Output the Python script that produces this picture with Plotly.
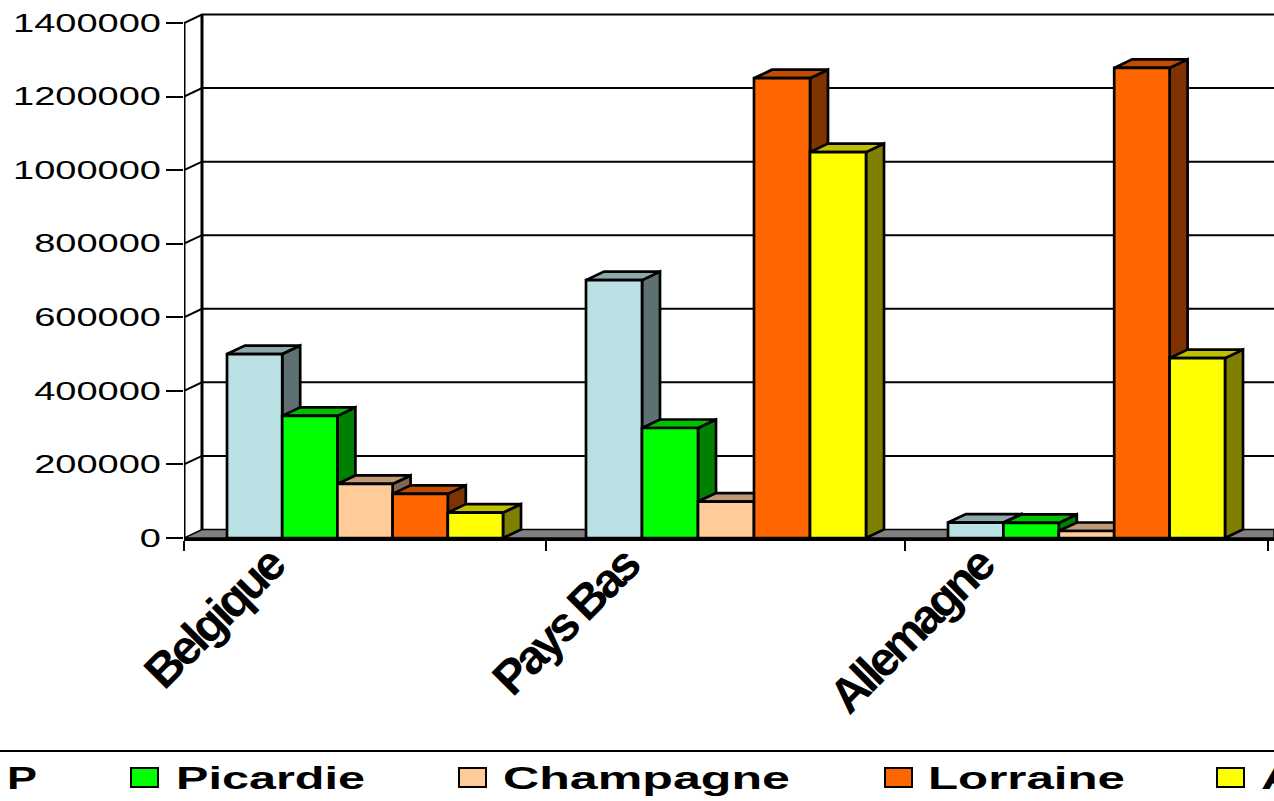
import plotly.graph_objects as go

categories = ["Belgique", "Pays Bas", "Allemagne"]
legend_labels = ["P", "Picardie", "Champagne", "Lorraine", "A"]
serie_p = [500000, 701000, 42000]
picardie = [332000, 299000, 41000]
champagne = [147000, 99000, 19000]
lorraine = [120000, 1250000, 1278000]
serie_a = [69000, 1049000, 489000]
series = [serie_p, picardie, champagne, lorraine, serie_a]
tick_values = [0, 200000, 400000, 600000, 800000, 1000000, 1200000, 1400000]

front = ["#BBE0E3", "#00FF00", "#FFCC99", "#FF6600", "#FFFF00"]
top = ["#8CA8AA", "#00C000", "#BF9973", "#BF4C00", "#BFBF00"]
side = ["#5E7072", "#008000", "#80664D", "#803300", "#808000"]

W, H = 1274, 801
X0, Y0 = 184, 538
CAT_W = 360.7
PX_PER_VAL = 515 / 1400000
xmax = (W - X0) / CAT_W
ymax = Y0 / PX_PER_VAL
DX = 18 / CAT_W
DY = 8.5 / PX_PER_VAL
BAR_W = [55.2 / CAT_W, 56.0 / CAT_W, 55.4 / CAT_W]
GAP = [43 / CAT_W, 41.3 / CAT_W, 42.6 / CAT_W]

fig = go.Figure()


def poly(xs, ys, fill, name, width=2.7):
    fig.add_trace(go.Scatter(x=xs, y=ys, mode="lines", fill="toself", fillcolor=fill,
                             line=dict(color="black", width=width), name=name,
                             hoverinfo="skip", showlegend=False, cliponaxis=False))


def line(xs, ys, name, width=2.0):
    fig.add_trace(go.Scatter(x=xs, y=ys, mode="lines", line=dict(color="black", width=width),
                             name=name, hoverinfo="skip", showlegend=False, cliponaxis=False))


# walls and floor
gx, gy = [], []
for v in tick_values[1:]:
    gx += [0, DX, xmax, None]
    gy += [v, v + DY, v + DY, None]
line(gx, gy, "grid", 2.0)
poly([0, DX, xmax, xmax, 0], [0, DY, DY, 0, 0], "#808080", "floor", 1.5)
line([DX, DX], [0 + DY, tick_values[-1] + DY], "back wall", 3)
line([0, 0], [0, tick_values[-1]], "front wall", 3)

# boxes
for s, vals in enumerate(series):
    fx, fy, tx, ty, sx, sy = [], [], [], [], [], []
    for c, v in enumerate(vals):
        l = c + GAP[c] + s * BAR_W[c]
        r = l + BAR_W[c]
        fx += [l, r, r, l, l, None]
        fy += [0, 0, v, v, 0, None]
        tx += [l, r, r + DX, l + DX, l, None]
        ty += [v, v, v + DY, v + DY, v, None]
        sx += [r, r + DX, r + DX, r, r, None]
        sy += [0, DY, v + DY, v, 0, None]
    poly(sx, sy, side[s], legend_labels[s] + " side")
    poly(tx, ty, top[s], legend_labels[s] + " top")
    poly(fx, fy, front[s], legend_labels[s])


def px(x):
    return (x - X0) / (W - X0)


def py(y):
    return (Y0 - y) / Y0


legend_text_x = [5, 174, 501, 926, 1259]
legend_text_w = [30, 189, 287, 197, 36]
legend_swatch_x = [None, 131, 459, 885, 1217]
shapes = [dict(type="line", xref="paper", yref="paper", x0=px(0), x1=px(W), y0=py(751), y1=py(751),
               line=dict(color="black", width=2))]
annotations = []
for i, lab in enumerate(legend_labels):
    annotations.append(dict(text=lab, xref="paper", yref="paper", x=px(legend_text_x[i]), y=py(778),
                            xanchor="left", yanchor="middle", showarrow=False,
                            font=dict(family="Liberation Sans", size=32, color="black", weight=700)))
    if legend_swatch_x[i] is not None:
        shapes.append(dict(type="rect", xref="paper", yref="paper",
                           x0=px(legend_swatch_x[i]), x1=px(legend_swatch_x[i] + 27),
                           y0=py(768), y1=py(787), fillcolor=front[i],
                           line=dict(color="black", width=2)))

fig.update_layout(
    width=W, height=H, autosize=False,
    margin=dict(l=X0, r=0, t=0, b=H - Y0, pad=0),
    paper_bgcolor="white", plot_bgcolor="white", showlegend=False,
    shapes=shapes, annotations=annotations,
    xaxis=dict(range=[0, xmax], showgrid=False, zeroline=False, showline=True,
               linecolor="black", linewidth=3,
               tickmode="array", tickvals=[0.244, 1.228, 2.211], ticktext=categories,
               ticks="", tickangle=-45, ticklabelstandoff=-25,
               tickfont=dict(family="Liberation Sans", size=48, color="black", weight=700),
               minor=dict(tickmode="array", tickvals=[0, 1.003, 1.998, 3.005], ticks="outside",
                          ticklen=10, tickwidth=2, tickcolor="black", showgrid=False)),
    yaxis=dict(range=[0, ymax], showgrid=False, zeroline=False, showline=False,
               tickmode="array", tickvals=tick_values, tickformat="d", ticks="outside",
               ticklen=17, tickwidth=1.5, tickcolor="black",
               tickfont=dict(family="Liberation Sans", size=25, color="black")),
)

# The reference's text is stretched horizontally; widen the real text to the same widths.
post = """
document.body.style.margin = '0';
document.querySelectorAll('.ytick text').forEach(function (t) {
  var w = t.getComputedTextLength();
  t.setAttribute('lengthAdjust', 'spacingAndGlyphs');
  t.setAttribute('textLength', w * 1.52);
});
document.querySelectorAll('.xtick text').forEach(function (t) {
  var w = t.getComputedTextLength();
  t.setAttribute('lengthAdjust', 'spacing');
  t.setAttribute('textLength', w * 0.87);
});
var widths = %s;
document.querySelectorAll('.annotation-text').forEach(function (t, i) {
  var w = t.getComputedTextLength();
  var x = parseFloat(t.getAttribute('x') || '0');
  t.setAttribute('text-anchor', 'start');
  t.style.textAnchor = 'start';
  t.setAttribute('x', x - w / 2);
  t.setAttribute('lengthAdjust', 'spacingAndGlyphs');
  t.setAttribute('textLength', widths[i]);
});
""" % legend_text_w

fig.write_html("out.html", post_script=post, config={"displayModeBar": False})
